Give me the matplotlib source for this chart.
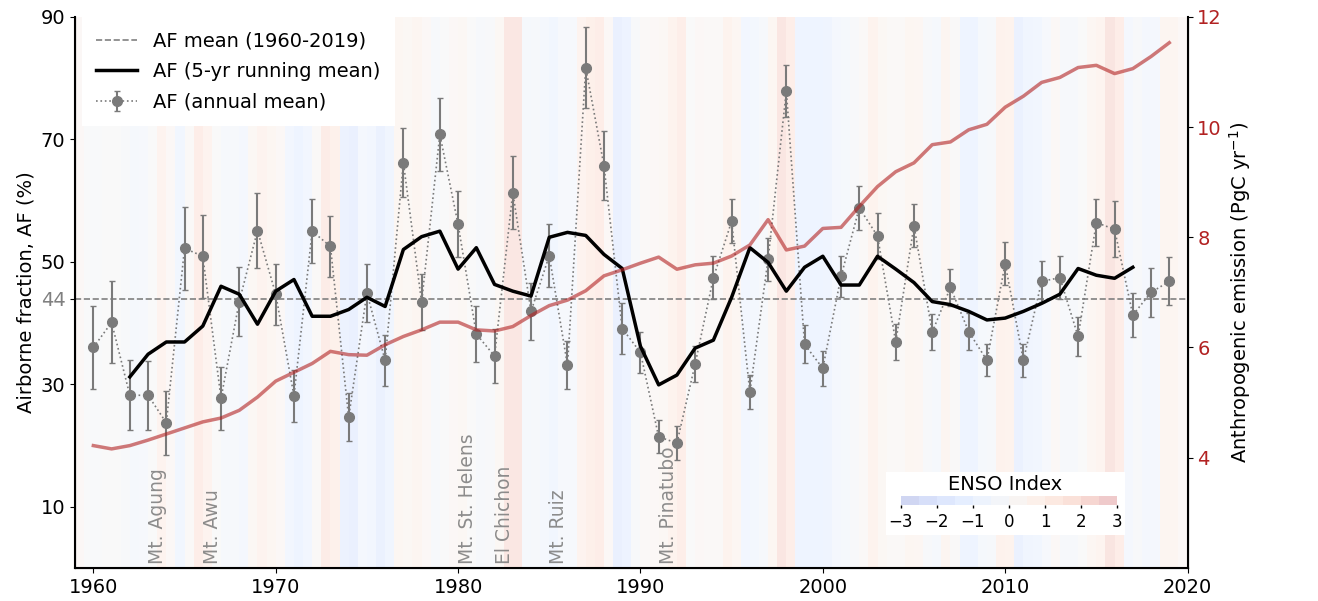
import numpy as np
import matplotlib
matplotlib.use("Agg")
import matplotlib.pyplot as plt
from matplotlib import colors as mcolors
from matplotlib.colorbar import ColorbarBase

# annual airborne fraction (%) and 1-sigma error, 1960-2019
years = np.arange(1960, 2020)
af_annual = [36.0, 40.1, 28.2, 28.2, 23.7, 52.2, 50.9, 27.7, 43.5, 55.1,
             44.7, 28.1, 55.0, 52.5, 24.6, 44.9, 33.9, 66.2, 43.4, 70.8,
             56.1, 38.2, 34.6, 61.3, 41.9, 51.0, 33.1, 81.7, 65.7, 39.1,
             35.2, 21.4, 20.4, 33.3, 47.4, 56.6, 28.7, 50.4, 77.9, 36.5,
             32.6, 47.6, 58.8, 54.2, 36.9, 55.9, 38.5, 45.8, 38.6, 33.9,
             49.7, 33.9, 46.8, 47.4, 37.8, 56.4, 55.3, 41.3, 45.0, 46.8]
af_err = [6.8, 6.7, 5.7, 5.6, 5.2, 6.8, 6.8, 5.1, 5.7, 6.1,
          5.0, 4.2, 5.2, 5.0, 3.9, 4.7, 4.2, 5.7, 4.6, 6.0,
          5.4, 4.5, 4.4, 6.0, 4.6, 5.2, 3.9, 6.6, 5.6, 4.2,
          3.3, 2.7, 2.8, 3.0, 3.5, 3.6, 2.8, 3.5, 4.3, 3.1,
          2.9, 3.3, 3.6, 3.7, 3.0, 3.5, 2.9, 3.1, 3.0, 2.6,
          3.5, 2.7, 3.3, 3.5, 3.2, 3.8, 4.6, 3.6, 4.0, 3.9]

# 5-yr running mean, 1962-2017
rm_years = np.arange(1962, 2018)
af_running = [31.2, 34.9, 36.9, 36.9, 39.5, 46.0, 44.7, 39.8,
              45.2, 47.1, 41.1, 41.1, 42.2, 44.2, 42.7, 52.0, 54.1, 55.0,
              48.8, 52.3, 46.3, 45.2, 44.4, 54.0, 54.8, 54.3, 51.2, 48.9,
              36.2, 29.9, 31.5, 35.9, 37.2, 44.2, 52.3, 49.9, 45.2, 49.1,
              50.9, 46.2, 46.2, 50.9, 48.8, 46.6, 43.5, 43.0, 41.9, 40.5,
              40.8, 41.9, 43.2, 44.7, 48.9, 47.8, 47.3, 49.1]
af_mean = 44

# anthropogenic emission (PgC/yr), 1960-2019
emission = [4.22, 4.16, 4.22, 4.32, 4.43, 4.54, 4.65, 4.72, 4.86, 5.10,
            5.39, 5.55, 5.71, 5.93, 5.87, 5.86, 6.05, 6.20, 6.32, 6.46,
            6.46, 6.32, 6.30, 6.38, 6.58, 6.76, 6.86, 7.03, 7.30, 7.41,
            7.53, 7.64, 7.42, 7.50, 7.53, 7.66, 7.86, 8.32, 7.77, 7.84,
            8.16, 8.18, 8.56, 8.92, 9.19, 9.35, 9.68, 9.73, 9.95, 10.05,
            10.36, 10.56, 10.81, 10.90, 11.08, 11.12, 10.97, 11.06, 11.28, 11.53]

# ENSO index, half-year values (Jan-Jun, Jul-Dec) from 1959 to 2019
enso_start = 1959
enso = [0.3, -0.1, -0.1, 0.0, 0.0, -0.2, -0.5, -0.4, 0.0, 0.9,
        0.3, -0.9, 0.2, 1.5, 0.9, 0.0, -0.4, -0.3, -0.6, 0.4,
        0.9, 0.6, 0.3, -0.8, -1.2, -0.8, 0.2, 1.6, 1.2, -1.4,
        -1.6, -0.6, -0.8, -1.5, -1.0, 0.6, 0.4, 0.7, 0.3, -0.3,
        0.0, 0.3, 0.4, 0.0, -0.3, -0.2, 0.4, 2.0, 2.0, -0.5,
        -0.3, -0.6, -0.9, -0.4, -0.4, 0.9, 1.3, 1.5, 0.3, -1.6,
        -1.3, -0.2, 0.2, 0.3, 0.4, 1.0, 1.4, 0.0, 0.3, 0.2,
        0.2, 1.0, 0.5, -0.8, -0.7, -0.3, 0.6, 2.1, 1.4, -1.2,
        -1.2, -1.2, -1.1, -0.6, -0.5, -0.2, 0.2, 1.0, 0.4, 0.2,
        0.2, 0.6, 0.5, -0.2, -0.5, 0.7, 0.1, -1.2, -1.2, -0.5,
        -0.3, 1.1, 1.0, -1.5, -1.0, -0.9, -0.4, 0.3, -0.3, -0.3,
        0.0, 0.5, 0.8, 2.2, 1.5, -0.6, -0.2, -0.6, -0.6, 0.7,
        0.7, 0.3]

volcanoes = ["Mt. Agung", "Mt. Awu", "Mt. St. Helens", "El Chichon", "Mt. Ruiz", "Mt. Pinatubo"]
volcano_years = [1963, 1966, 1980, 1982, 1985, 1991]

FS = 14
fig = plt.figure(figsize=(13.18, 6.01), dpi=100)
ax = fig.add_axes([0.057, 0.055, 0.844, 0.917])

# ENSO stripes in background
cmap = plt.get_cmap("coolwarm")
norm = mcolors.Normalize(vmin=-3, vmax=3)
edges = enso_start + np.arange(len(enso) + 1) * 0.5
ax.pcolormesh(edges, [0, 90], np.array(enso)[None, :], cmap=cmap, norm=norm,
              alpha=0.17, zorder=0, linewidth=0, antialiased=False)

ax.axhline(af_mean, color="grey", ls="--", lw=1.2, label="AF mean (1960-2019)", zorder=2)
ax.plot(rm_years, af_running, color="black", lw=2.5, label="AF (5-yr running mean)", zorder=4)
ax.errorbar(years, af_annual, yerr=af_err, fmt="o", ls=":", lw=1.2, color="#7a7a7a",
            ecolor="#7a7a7a", elinewidth=1.5, capsize=2, ms=7, label="AF (annual mean)", zorder=3)

for name, yr in zip(volcanoes, volcano_years):
    ax.text(yr, 0.6, name, rotation=90, ha="left", va="bottom",
            color="grey", fontsize=13.5, alpha=0.9, zorder=5)

ax.set_xlim(1959, 2020)
ax.set_ylim(0, 90)
ax.set_xticks([1960, 1970, 1980, 1990, 2000, 2010, 2020])
ax.set_yticks([10, 30, 44, 50, 70, 90])
ax.tick_params(labelsize=FS)
ax.get_yticklabels()[2].set_color("grey")
ax.set_ylabel("Airborne fraction, AF (%)", fontsize=FS)
ax.spines["top"].set_visible(False)
for s in ["left", "bottom"]:
    ax.spines[s].set_linewidth(1.5)

leg = ax.legend(loc="upper left", bbox_to_anchor=(0.006, 1.0), fontsize=FS,
                frameon=True, framealpha=1, fancybox=False, edgecolor="none",
                borderaxespad=0, borderpad=0.75, labelspacing=0.6,
                handlelength=2.1, handletextpad=0.8)
leg.set_zorder(10)

# emissions on right axis
ax2 = ax.twinx()
ax2.plot(years, emission, color="firebrick", alpha=0.6, lw=2.5)
ax2.set_ylim(2, 12)
ax2.set_yticks([4, 6, 8, 10, 12])
ax2.tick_params(labelsize=FS, labelcolor="firebrick")
ax2.set_ylabel("Anthropogenic emission (PgC yr$^{-1}$)", fontsize=FS)
ax2.spines["top"].set_visible(False)
ax2.spines["right"].set_linewidth(1.5)

# ENSO colour key
box = fig.add_axes([886 / 1318, 1 - 535 / 601, 239 / 1318, 63 / 601])
box.set_facecolor("white")
box.set_xticks([])
box.set_yticks([])
for s in box.spines.values():
    s.set_visible(False)
box.text(0.5, 0.8, "ENSO Index", ha="center", va="center", fontsize=FS, transform=box.transAxes)

cax = fig.add_axes([901 / 1318, 1 - 505 / 601, 216 / 1318, 9 / 601])
cb = ColorbarBase(cax, cmap=cmap, norm=norm, orientation="horizontal",
                  boundaries=np.linspace(-3, 3, 13), alpha=0.25)
cb.outline.set_visible(False)
cb.set_ticks([-3, -2, -1, 0, 1, 2, 3])
cax.tick_params(labelsize=12, length=2, width=1)

fig.savefig("out.png", dpi=100)
